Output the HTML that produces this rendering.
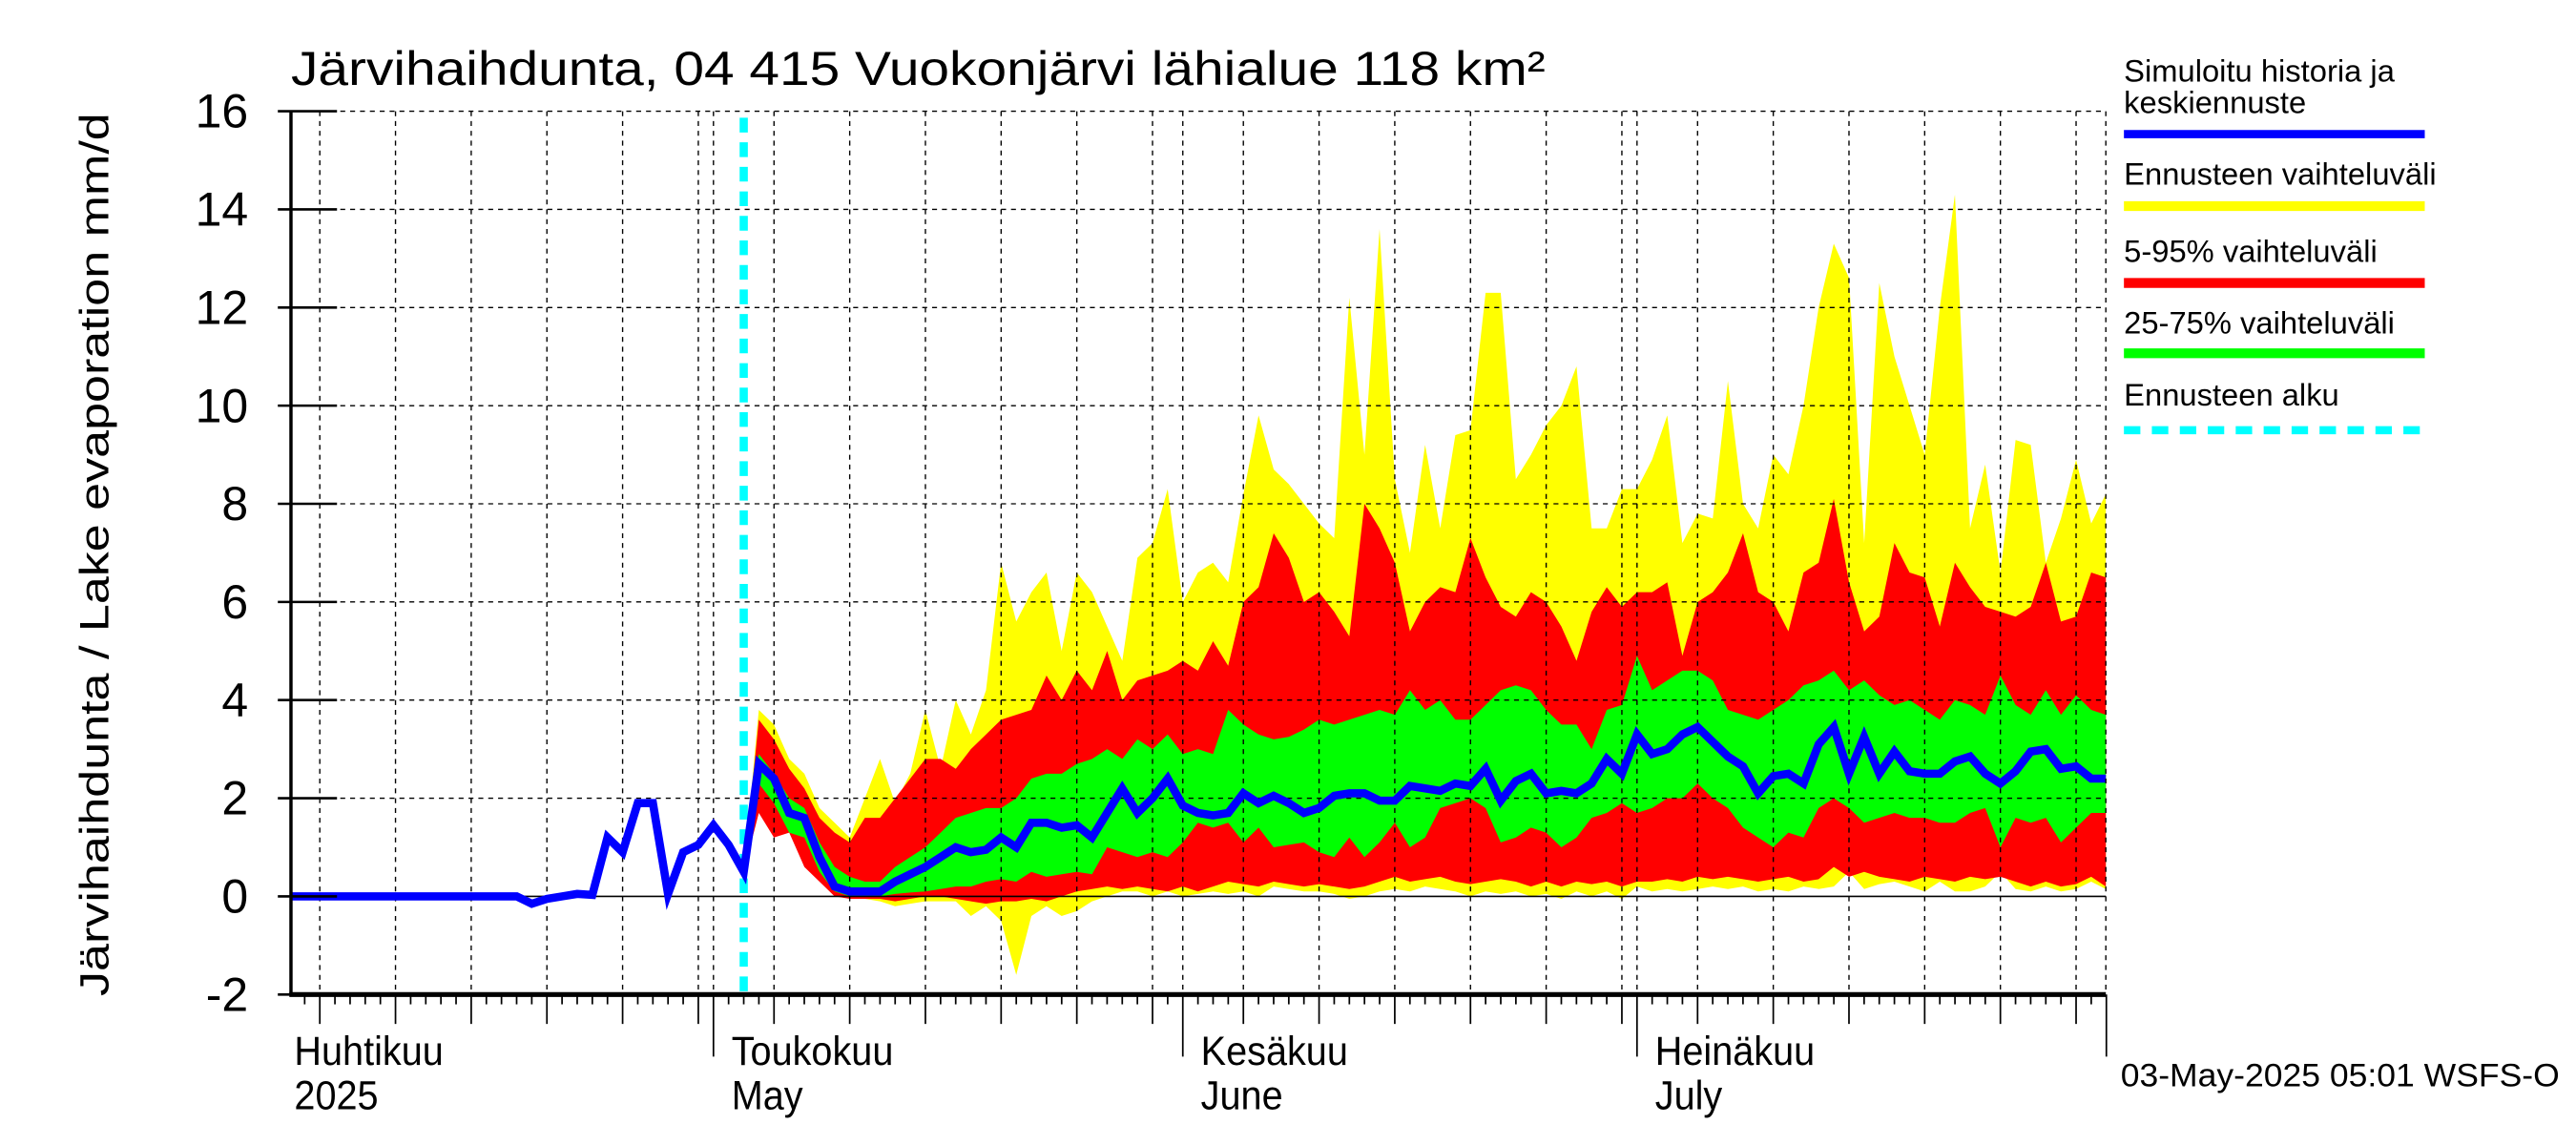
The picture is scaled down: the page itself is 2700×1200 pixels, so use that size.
<!DOCTYPE html>
<html><head><meta charset="utf-8">
<style>
html,body{margin:0;padding:0;background:#fff;}
svg{display:block;font-family:"Liberation Sans",sans-serif;}
</style></head>
<body>
<svg id="chart" width="2700" height="1200" viewBox="0 0 1567 700" preserveAspectRatio="none" xmlns="http://www.w3.org/2000/svg">
<rect x="0" y="0" width="1567" height="700" fill="#fff"/>
<g id="bands"></g>
<g id="grid"></g>
<g id="lines"></g>
<g id="axes"></g>
<text x="177" y="52" font-size="29" textLength="763" lengthAdjust="spacingAndGlyphs">Järvihaihdunta, 04 415 Vuokonjärvi lähialue 118 km²</text>
<text transform="translate(66,339) rotate(-90)" text-anchor="middle" font-size="25" textLength="540" lengthAdjust="spacingAndGlyphs">Järvihaihdunta / Lake evaporation   mm/d</text>
<g font-size="19">
<text x="1292" y="50">Simuloitu historia ja</text>
<text x="1292" y="69">keskiennuste</text>
<line x1="1292" y1="82" x2="1475" y2="82" stroke="#0000ff" stroke-width="5"/>
<text x="1292" y="113">Ennusteen vaihteluväli</text>
<line x1="1292" y1="126" x2="1475" y2="126" stroke="#ffff00" stroke-width="6"/>
<text x="1292" y="160">5-95% vaihteluväli</text>
<line x1="1292" y1="173" x2="1475" y2="173" stroke="#ff0000" stroke-width="6"/>
<text x="1292" y="204">25-75% vaihteluväli</text>
<line x1="1292" y1="216" x2="1475" y2="216" stroke="#00ff00" stroke-width="6"/>
<text x="1292" y="248">Ennusteen alku</text>
<line x1="1292" y1="263" x2="1475" y2="263" stroke="#00ffff" stroke-width="5" stroke-dasharray="10,7"/>
</g>
<text x="1290" y="664" font-size="20" textLength="267" lengthAdjust="spacingAndGlyphs">03-May-2025 05:01 WSFS-O</text>
</svg>
<script>
const yTicks=[-2,0,2,4,6,8,10,12,14,16];
const monthLabelsFi=["Huhtikuu","Toukokuu","Kesäkuu","Heinäkuu"];
const monthLabelsEn=["2025","May","June","July"];
const monthStartDays=[0,30,61,91];
const forecastStartDay=32;
const histStartDay=2;
const histValues=[0,0,0,0,0,0,0,0,0,0,0,0,0,0,0,0,-0.15,-0.05,0,0.05,0.03,1.2,0.9,1.9,1.9,0.05,0.9,1.05,1.45,1.05,0.5];
const fcStartDay=33;
const median=[2.7,2.4,1.7,1.6,0.8,0.2,0.1,0.1,0.1,0.3,
0.45,
0.6,0.8,1.0,0.9,0.95,1.2,1.0,1.5,1.5,1.4,
1.45,1.2,1.7,2.2,1.7,2.0,2.4,1.85,1.7,1.65,
1.7,2.1,1.9,2.05,1.9,1.7,1.8,2.05,2.1,2.1,1.95,
1.95,2.25,2.2,2.15,2.3,2.25,2.6,1.95,2.35,2.5,
2.1,2.15,2.1,2.3,2.8,2.5,3.3,2.9,3.0,3.3,
3.45,3.15,2.85,2.65,2.1,2.45,2.5,2.3,3.1,
3.45,2.5,3.25,2.5,2.95,2.55,2.5,2.5,2.75,2.85,
2.5,2.3,2.55,2.95,3.0,2.6,2.65,2.4,2.4];
const yMax=[3.8,3.5,2.8,2.5,1.8,1.5,1.2,2.0,2.8,1.9,
2.5,
3.8,2.6,4.0,3.3,4.2,6.8,5.6,6.2,6.6,5.0,
6.6,6.2,5.5,4.8,6.9,7.2,8.3,6.0,6.6,6.8,
6.4,8.2,9.8,8.7,8.4,8.0,7.6,7.3,12.2,9.0,13.6,
8.5,7.0,9.2,7.5,9.4,9.5,12.3,12.3,8.5,9.0,
9.6,10.0,10.8,7.5,7.5,8.3,8.3,8.9,9.8,7.2,
7.8,7.7,10.5,8.0,7.5,9.0,8.6,10.0,12.0,
13.3,12.6,7.2,12.5,11.0,10.0,9.0,12.0,14.3,7.5,
8.8,6.6,9.3,9.2,6.8,7.7,8.9,7.6,8.2];
const yMin=[2.2,2.0,1.8,0.8,1.2,0.2,-0.05,-0.05,-0.1,-0.2,
-0.15,
-0.1,-0.1,-0.1,-0.4,-0.2,-0.5,-1.6,-0.4,-0.2,-0.4,
-0.3,-0.1,0.0,0.1,0.1,0.0,0.1,0.0,0.05,0.1,
0.05,0.1,0.0,0.2,0.15,0.1,0.1,0.05,-0.05,0.0,0.1,
0.15,0.1,0.2,0.15,0.1,0.0,0.1,0.05,0.1,0.0,
0.05,-0.05,0.1,0.0,0.1,-0.05,0.2,0.1,0.15,0.1,
0.15,0.2,0.15,0.2,0.1,0.15,0.1,0.2,0.15,
0.2,0.5,0.15,0.25,0.3,0.2,0.1,0.3,0.1,0.1,
0.2,0.5,0.15,0.1,0.2,0.1,0.15,0.3,0.15];
const p95=[3.6,3.2,2.6,2.2,1.6,1.3,1.1,1.6,1.6,2.0,
2.4,
2.8,2.8,2.6,3.0,3.3,3.6,3.7,3.8,4.5,4.0,
4.6,4.2,5.0,4.0,4.4,4.5,4.6,4.8,4.6,5.2,
4.7,6.0,6.3,7.4,6.9,6.0,6.2,5.8,5.3,8.0,7.5,
6.8,5.4,6.0,6.3,6.2,7.3,6.5,5.9,5.7,6.2,
6.0,5.5,4.8,5.8,6.3,5.9,6.2,6.2,6.4,4.9,
6.0,6.2,6.6,7.4,6.2,6.0,5.4,6.6,6.8,
8.1,6.4,5.4,5.7,7.2,6.6,6.5,5.5,6.8,6.3,
5.9,5.8,5.7,5.9,6.8,5.6,5.7,6.6,6.5,7.2];
const p5=[1.7,1.2,1.3,0.6,0.3,0.0,-0.05,-0.05,-0.05,-0.1,
-0.05,
0.0,0.0,-0.05,-0.1,-0.15,-0.1,-0.1,-0.05,-0.1,0.0,
0.1,0.15,0.2,0.15,0.2,0.15,0.1,0.2,0.1,0.2,
0.3,0.25,0.2,0.3,0.25,0.2,0.25,0.2,0.15,0.2,0.3,
0.4,0.3,0.35,0.4,0.3,0.25,0.3,0.35,0.3,0.2,
0.3,0.2,0.3,0.25,0.3,0.2,0.3,0.3,0.35,0.3,
0.4,0.35,0.4,0.35,0.3,0.35,0.4,0.3,0.35,
0.6,0.4,0.5,0.4,0.35,0.3,0.4,0.35,0.3,0.4,
0.35,0.4,0.3,0.2,0.3,0.2,0.25,0.4,0.2];
const p75=[2.9,2.5,2.0,1.8,1.1,0.6,0.4,0.3,0.3,0.6,
0.8,
1.0,1.3,1.6,1.7,1.8,1.8,2.0,2.4,2.5,2.5,
2.7,2.8,3.0,2.8,3.2,3.0,3.3,2.9,3.0,2.9,
3.8,3.5,3.3,3.2,3.25,3.4,3.6,3.5,3.6,3.7,3.8,
3.7,4.2,3.8,4.0,3.6,3.6,3.9,4.2,4.3,4.2,
3.8,3.5,3.5,3.0,3.8,3.9,4.9,4.2,4.4,4.6,
4.6,4.4,3.8,3.7,3.6,3.8,4.0,4.3,4.4,
4.6,4.2,4.4,4.1,3.9,4.0,3.8,3.6,4.0,3.9,
3.7,4.5,3.9,3.7,4.2,3.7,4.1,3.8,3.7];
const p25=[2.3,1.9,1.3,1.2,0.5,0.1,0.0,0.0,0.0,0.05,
0.08,
0.1,0.15,0.2,0.2,0.3,0.35,0.3,0.5,0.4,0.45,
0.5,0.45,1.0,0.9,0.8,0.9,0.8,1.1,1.5,1.4,
1.5,1.1,1.4,1.0,1.05,1.1,0.9,0.8,1.2,0.8,1.1,
1.5,1.0,1.2,1.8,1.9,2.0,1.8,1.1,1.2,1.4,
1.3,1.0,1.2,1.6,1.7,1.9,1.7,1.8,2.0,2.0,
2.3,2.0,1.8,1.4,1.2,1.0,1.3,1.2,1.8,
2.0,1.8,1.5,1.6,1.7,1.6,1.6,1.5,1.5,1.7,
1.8,1.0,1.6,1.5,1.6,1.1,1.4,1.7,1.7];

const NS="http://www.w3.org/2000/svg";
const L=177,R=1281,T=68,B=608;
function xs(d){return 157.7+d*9.21;}
function ys(v){return 548-v*30;}
function mk(tag,attrs,parent){const e=document.createElementNS(NS,tag);for(const k in attrs)e.setAttribute(k,attrs[k]);parent.appendChild(e);return e;}
const gB=document.getElementById('bands'),gG=document.getElementById('grid'),gL=document.getElementById('lines'),gA=document.getElementById('axes');

function band(up,lo,color,name){
  let pts=[];
  for(let i=0;i<up.length;i++)pts.push(Math.min(xs(fcStartDay+i),R).toFixed(1)+","+ys(up[i]).toFixed(1));
  for(let i=lo.length-1;i>=0;i--)pts.push(Math.min(xs(fcStartDay+i),R).toFixed(1)+","+ys(lo[i]).toFixed(1));
  pts.unshift(xs(forecastStartDay).toFixed(1)+","+ys(histValues[histValues.length-1]).toFixed(1));
  const p=mk('polygon',{points:pts.join(' '),fill:color},gB);
  
  
}
band(yMax,yMin,'#ffff00','band-min-max');
band(p95,p5,'#ff0000','band-5-95');
band(p75,p25,'#00ff00','band-25-75');

for(const v of yTicks){
  if(v===0||v===-2)continue;
  const l=mk('line',{x1:L,x2:R,y1:ys(v),y2:ys(v),stroke:'#000','stroke-width':0.8,'stroke-dasharray':'3,3'},gG);
  
  
}
const monthLens=[30,31,30,31];
for(let m=0;m<4;m++){
  const s=monthStartDays[m];
  const marks=[0,4,9,14,19,24,29];
  for(const k of marks){
    if(k>=monthLens[m])continue;
    const d=s+k; const x=xs(d);
    if(x<=L+1||x>R)continue;
    const l=mk('line',{x1:x,x2:x,y1:T,y2:B,stroke:'#000','stroke-width':0.8,'stroke-dasharray':'3,3'},gG);
    
    
  }
}
const z=mk('line',{x1:L,x2:R,y1:ys(0),y2:ys(0),stroke:'#000','stroke-width':1},gG);



const fs=mk('line',{x1:xs(forecastStartDay),x2:xs(forecastStartDay),y1:72,y2:B,stroke:'#00ffff','stroke-width':5,'stroke-dasharray':'9,6'},gL);



let bp=[];
for(let i=0;i<histValues.length;i++)bp.push(xs(histStartDay+i)+","+ys(histValues[i]));
bp[0]=L+","+ys(histValues[0]);
for(let i=0;i<median.length;i++)bp.push(Math.min(xs(fcStartDay+i),R)+","+ys(median[i]));
const bl=mk('polyline',{points:bp.join(' '),fill:'none',stroke:'#0000ff','stroke-width':5,'stroke-linejoin':'miter'},gL);



const ax=mk('line',{x1:L,x2:L,y1:T,y2:B,stroke:'#000','stroke-width':2},gA);


const bx=mk('line',{x1:L-1,x2:R,y1:B,y2:B,stroke:'#000','stroke-width':3},gA);


for(const v of yTicks){
  const t=mk('line',{x1:L-8,x2:L+28,y1:ys(v),y2:ys(v),stroke:'#000','stroke-width':1.5},gA);
  
  
  const tx=mk('text',{x:151,y:ys(v)+10,'text-anchor':'end','font-size':29},gA);
  tx.textContent=String(v);
  
  
}
for(let d=2;d<=122;d++){
  const x=xs(d); if(x<L)continue;
  let len=6;
  const isMonth=monthStartDays.includes(d)||d===122;
  let dom=null;
  for(let m=0;m<4;m++){ if(d>=monthStartDays[m]) dom=d-monthStartDays[m]; }
  if(isMonth)len=38; else if([4,9,14,19,24,29].includes(dom))len=18;
  const t=mk('line',{x1:x,x2:x,y1:B,y2:B+len,stroke:'#000','stroke-width':1},gA);
  
  
}
const rl=mk('line',{x1:R,x2:R,y1:T,y2:B,stroke:'#000','stroke-width':0.8,'stroke-dasharray':'3,3'},gA);


for(let m=0;m<4;m++){
  const x0=m===0?179:xs(monthStartDays[m])+11;
  const tr='translate('+x0+',0) scale(0.92,1) translate('+(-x0)+',0)';
  const t1=mk('text',{x:x0,y:651,'font-size':25,transform:tr},gA);
  t1.textContent=monthLabelsFi[m];
  
  
  const t2=mk('text',{x:x0,y:678,'font-size':25,transform:tr},gA);
  t2.textContent=monthLabelsEn[m];
  
  
}
</script>
</body></html>
